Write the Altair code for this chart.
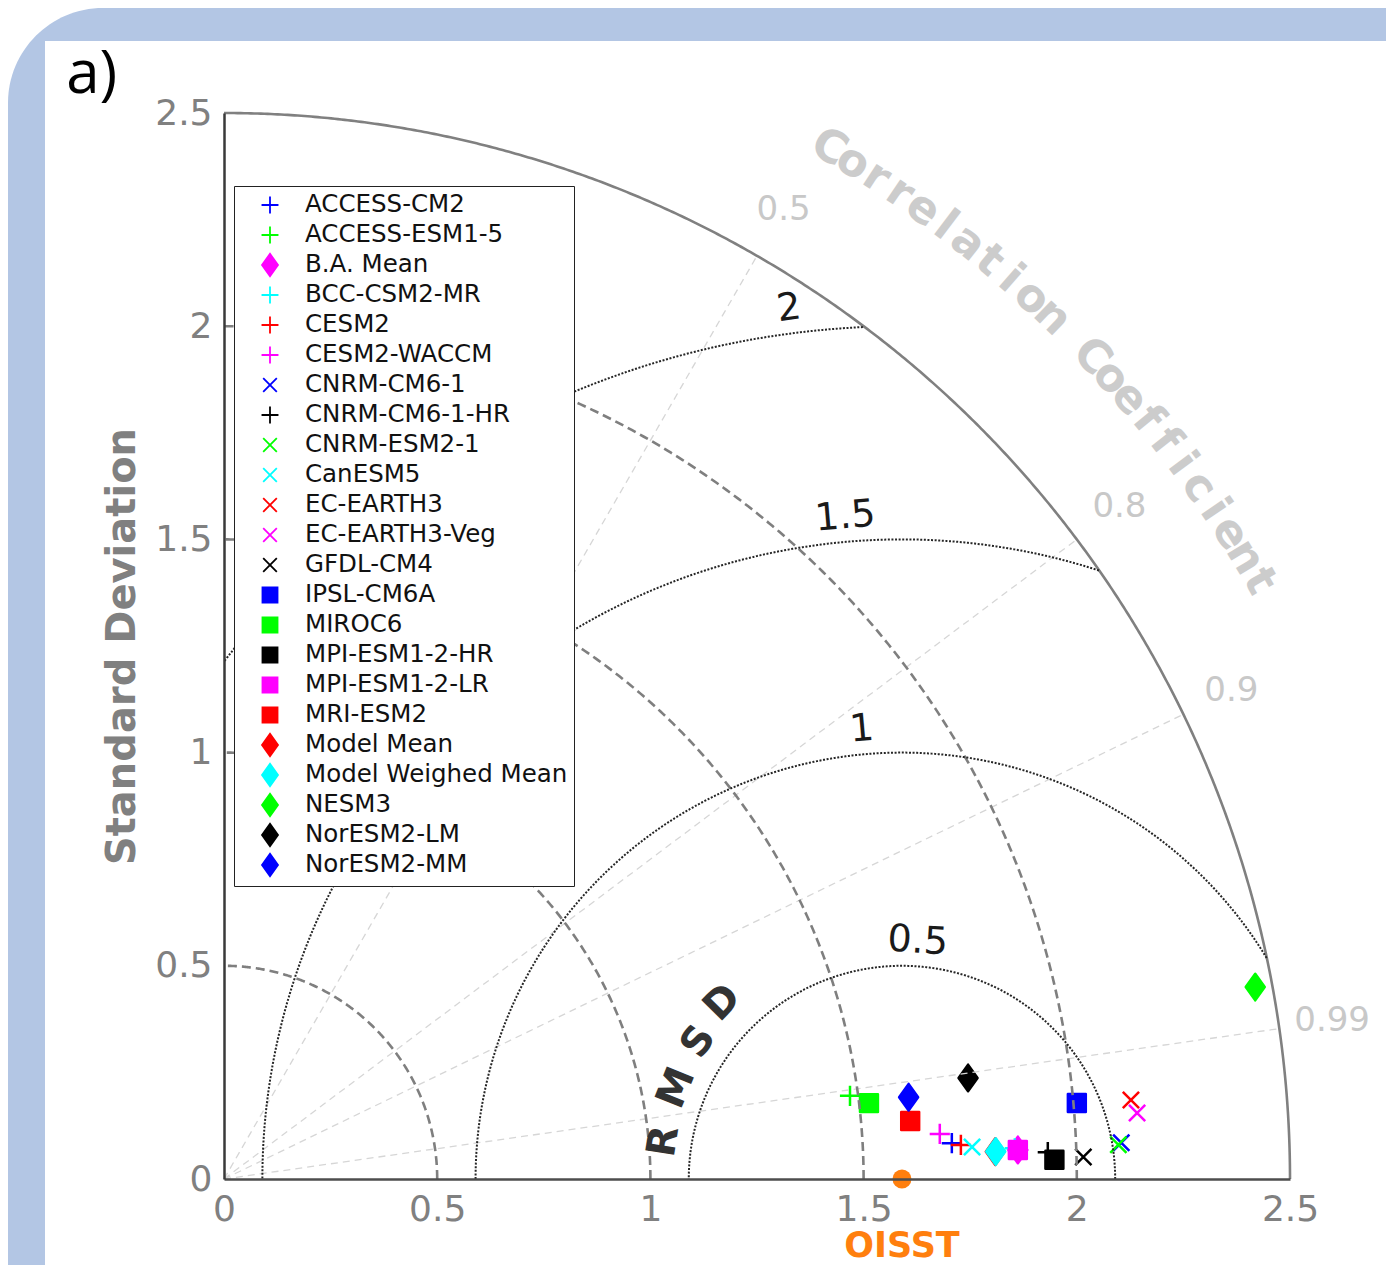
import numpy as np
import pandas as pd
import altair as alt

# ---------------- data ----------------
OBS_NAME = "OISST"
OBS_STD = 1.59

MODEL_NAMES = ["ACCESS-CM2", "ACCESS-ESM1-5", "B.A. Mean", "BCC-CSM2-MR", "CESM2",
               "CESM2-WACCM", "CNRM-CM6-1", "CNRM-CM6-1-HR", "CNRM-ESM2-1", "CanESM5",
               "EC-EARTH3", "EC-EARTH3-Veg", "GFDL-CM4", "IPSL-CM6A", "MIROC6",
               "MPI-ESM1-2-HR", "MPI-ESM1-2-LR", "MRI-ESM2", "Model Mean",
               "Model Weighed Mean", "NESM3", "NorESM2-LM", "NorESM2-MM"]
MODEL_STD = [1.709, 1.481, 1.863, 1.856, 1.730, 1.682, 2.106, 1.933, 2.099, 1.756,
             2.135, 2.147, 2.016, 2.008, 1.523, 1.948, 1.863, 1.615, 1.810, 1.811,
             2.460, 1.761, 1.617]
MODEL_CORR = [0.99879, 0.99129, 0.99933, 0.99925, 0.99893, 0.99802, 0.99918, 0.99947,
              0.99927, 0.99909, 0.99623, 0.99739, 0.99967, 0.99606, 0.99315, 0.99973,
              0.99933, 0.99645, 0.99937, 0.99937, 0.98312, 0.99090, 0.99293]
MODEL_COLORS = ["#0000ff", "#00ff00", "#ff00ff", "#00ffff", "#ff0000", "#ff00ff",
                "#0000ff", "#000000", "#00ff00", "#00ffff", "#ff0000", "#ff00ff",
                "#000000", "#0000ff", "#00ff00", "#000000", "#ff00ff", "#ff0000",
                "#ff0000", "#00ffff", "#00ff00", "#000000", "#0000ff"]
MODEL_MARKERS = ["plus", "plus", "diamond", "plus", "plus", "plus", "x", "plus", "x", "x",
                 "x", "x", "x", "square", "square", "square", "square", "square",
                 "diamond", "diamond", "diamond", "diamond", "diamond"]

STD_ARCS = [0.5, 1.0, 1.5, 2.0]
STD_MAX = 2.5
RMSD_LEVELS = [0.5, 1.0, 1.5, 2.0]
RMSD_LABELS = ["0.5", "1", "1.5", "2"]
CORR_TICKS = [0.5, 0.8, 0.9, 0.99]
CORR_LABELS = ["0.5", "0.8", "0.9", "0.99"]
AXIS_TICKS = [0, 0.5, 1, 1.5, 2, 2.5]

# ---------------- styling / layout ----------------
W = 1066
PAD = {"left": 216, "top": 105, "right": 96, "bottom": 86}
BLUE = "#b3c6e4"
FONT = "DejaVu Sans"
# every symbol path carries the same invisible vertical extent (zero-length strokes)
# so that legend rows get equal heights
EXT = "M0,-0.95L0,-0.95M0,0.95L0,0.95"
SHAPE_PATHS = {
    "plus": "M-0.72,0L0.72,0M0,-0.72L0,0.72" + EXT,
    "x": "M-0.58,-0.58L0.58,0.58M-0.58,0.58L0.58,-0.58" + EXT,
    "diamond": "M0,-0.95L0.68,0L0,0.95L-0.68,0Z" + EXT,
    "square": "M-0.64,-0.64L0.64,-0.64L0.64,0.64L-0.64,0.64Z" + EXT,
}

XS = alt.Scale(domain=[0, STD_MAX], nice=False, zero=False)
YS = alt.Scale(domain=[0, STD_MAX], nice=False, zero=False)

x_axis = alt.Axis(values=AXIS_TICKS, format="~g", ticks=False, grid=False,
                  domainColor="#4d4d4d", domainWidth=2.5, labelFont=FONT,
                  labelFontSize=36, labelColor="#808080", labelPadding=13,
                  labelOverlap=False, labelFlush=False, title=None, zindex=1)
y_axis = alt.Axis(values=AXIS_TICKS, format="~g", ticks=False, grid=False,
                  domainColor="#3a3a3a", domainWidth=2.5, labelFont=FONT,
                  labelFontSize=36, labelColor="#808080", labelPadding=12,
                  labelOverlap=False, labelFlush=False,
                  title="Standard Deviation", titleFont=FONT, titleFontSize=40,
                  titleFontWeight="bold", titleColor="#808080", titlePadding=12,
                  zindex=1)


def xy():
    return dict(x=alt.X("x:Q", scale=XS, axis=x_axis),
                y=alt.Y("y:Q", scale=YS, axis=y_axis))


# ---------------- geometry tables ----------------
pts = pd.DataFrame({"name": MODEL_NAMES, "std": MODEL_STD, "corr": MODEL_CORR})
pts["x"] = pts["std"] * pts["corr"]
pts["y"] = pts["std"] * np.sqrt(1 - pts["corr"] ** 2)
pts["i"] = np.arange(len(pts))

obs_df = pd.DataFrame({"x": [OBS_STD], "y": [0.0], "name": [OBS_NAME]})

rows = []
for g, r in enumerate(STD_ARCS):
    t = np.linspace(0, np.pi / 2, 300)
    for k, tt in enumerate(t):
        rows.append({"g": g, "o": k, "x": r * np.cos(tt), "y": r * np.sin(tt)})
std_df = pd.DataFrame(rows)

t = np.linspace(0, np.pi / 2, 500)
outer_df = pd.DataFrame({"g": 0, "o": np.arange(len(t)),
                         "x": STD_MAX * np.cos(t), "y": STD_MAX * np.sin(t)})

rows = []
for g, c in enumerate(CORR_TICKS):
    s = np.sqrt(1 - c * c)
    rows.append({"g": g, "o": 0, "x": 0.0, "y": 0.0})
    rows.append({"g": g, "o": 1, "x": STD_MAX * c, "y": STD_MAX * s})
corr_df = pd.DataFrame(rows)

rows = []
for g, R in enumerate(RMSD_LEVELS):
    t = np.linspace(0, np.pi, 1200)
    k = 0
    for tt in t:
        x = OBS_STD + R * np.cos(tt)
        y = R * np.sin(tt)
        if x >= 0 and x * x + y * y <= STD_MAX ** 2 + 1e-9:
            rows.append({"g": g, "o": k, "x": x, "y": y})
            k += 1
rmsd_df = pd.DataFrame(rows)

corr_lab = pd.DataFrame({
    "t": CORR_LABELS,
    "x": [2.625 * c for c in CORR_TICKS],
    "y": [2.625 * np.sqrt(1 - c * c) for c in CORR_TICKS],
    "rot": 0,
})

title_txt = "Correlation Coefficient"
phis = np.linspace(59.6, 30.0, len(title_txt))
cc_df = pd.DataFrame({
    "t": list(title_txt),
    "x": 2.805 * np.cos(np.radians(phis)),
    "y": 2.805 * np.sin(np.radians(phis)),
    "rot": (90 - phis) % 360,
})
cc_df = cc_df[cc_df["t"] != " "]

rmsd_phi = np.array([171.0, 158.0, 146.0, 135.5])
rmsd_r = np.array([0.565, 0.57, 0.575, 0.59])
rm_df = pd.DataFrame({
    "t": list("RMSD"),
    "x": OBS_STD + rmsd_r * np.cos(np.radians(rmsd_phi)),
    "y": rmsd_r * np.sin(np.radians(rmsd_phi)),
    "rot": (90 - rmsd_phi) % 360,
})

lab_phi = np.array([86.2, 95.1, 94.9, 97.4])
lab_r = np.array(RMSD_LEVELS) + 0.058
rl_df = pd.DataFrame({
    "t": RMSD_LABELS,
    "x": OBS_STD + lab_r * np.cos(np.radians(lab_phi)),
    "y": lab_r * np.sin(np.radians(lab_phi)),
    "rot": (90 - lab_phi) % 360,
})

oisst_df = pd.DataFrame({"t": [OBS_NAME], "x": [OBS_STD], "y": [-0.156], "rot": [0]})
panel_df = pd.DataFrame({"t": ["a)"], "x": [-0.37], "y": [2.59], "rot": [0]})

# ---------------- layers ----------------
one = pd.DataFrame({"a": [0]})
bg_blue = alt.Chart(one).mark_rect(color=BLUE, cornerRadiusTopLeft=95).encode(
    x=alt.value(-PAD["left"]), x2=alt.value(W + PAD["right"]),
    y=alt.value(-PAD["top"]), y2=alt.value(W + PAD["bottom"]))
bg_white = alt.Chart(one).mark_rect(color="white").encode(
    x=alt.value(-179), x2=alt.value(W + PAD["right"]),
    y=alt.value(-72), y2=alt.value(W + PAD["bottom"]))

LEG = alt.Legend(orient="none", legendX=10, legendY=73, title=None,
                 labelFont=FONT, labelFontSize=24.5, labelColor="#111111",
                 symbolSize=552, symbolStrokeWidth=1.8, strokeColor="#222222",
                 fillColor="white", padding=6, rowPadding=0, labelOffset=22,
                 symbolOffset=17, labelLimit=600, direction="vertical")

shape_range = [SHAPE_PATHS[m] for m in MODEL_MARKERS]
points = alt.Chart(pts).mark_point(filled=True, size=784, strokeWidth=2.5,
                                   opacity=1, strokeJoin="round").encode(
    color=alt.Color("name:N", scale=alt.Scale(domain=MODEL_NAMES, range=MODEL_COLORS), legend=LEG),
    stroke=alt.Stroke("name:N", scale=alt.Scale(domain=MODEL_NAMES, range=MODEL_COLORS), legend=LEG),
    shape=alt.Shape("name:N", scale=alt.Scale(domain=MODEL_NAMES, range=shape_range), legend=LEG),
    order=alt.Order("i:Q"),
    **xy(),
)

obs_pt = alt.Chart(obs_df).mark_point(filled=True, size=360, shape="circle",
                                      color="#ff7f0e", opacity=1).encode(**xy())


def line_layer(df, color, width, dash=None):
    kw = dict(color=color, strokeWidth=width, strokeCap="butt")
    if dash:
        kw["strokeDash"] = dash
    return alt.Chart(df).mark_line(**kw).encode(detail="g:N", order="o:Q", **xy())


corr_lines = line_layer(corr_df, "#d6d6d6", 1.3, [7, 5])
std_lines = line_layer(std_df, "#7f7f7f", 2.6, [9, 5])
outer_line = line_layer(outer_df, "#808080", 2.6)
rmsd_lines = line_layer(rmsd_df, "#262626", 2.0, [2, 1.6])


def text_layer(df, size, color, weight="normal", font=FONT, align="center"):
    return alt.Chart(df).mark_text(fontSize=size, color=color, fontWeight=weight,
                                   font=font, align=align, baseline="middle").encode(
        text="t:N", angle=alt.Angle("rot:Q", scale=None), **xy())


t_corr = text_layer(corr_lab, 34, "#c8c8c8")
t_cc = text_layer(cc_df, 45, "#cccccc", "bold")
t_rm = text_layer(rm_df, 40, "#333333", "bold")
t_rl = text_layer(rl_df, 38, "#1a1a1a")
t_oisst = text_layer(oisst_df, 35, "#ff7f0e", "bold")
t_panel = text_layer(panel_df, 60, "#000000", "normal", "Open Sans", "left")

chart = alt.layer(
    bg_blue, bg_white, points, obs_pt, corr_lines, std_lines, outer_line,
    rmsd_lines, t_corr, t_cc, t_rm, t_rl, t_oisst, t_panel,
).properties(
    width=W, height=W, padding=PAD,
    autosize=alt.AutoSizeParams(type="none"),
).configure_view(stroke=None).configure(background="white")

chart.save("out.html", embed_options={"renderer": "svg", "actions": False})
